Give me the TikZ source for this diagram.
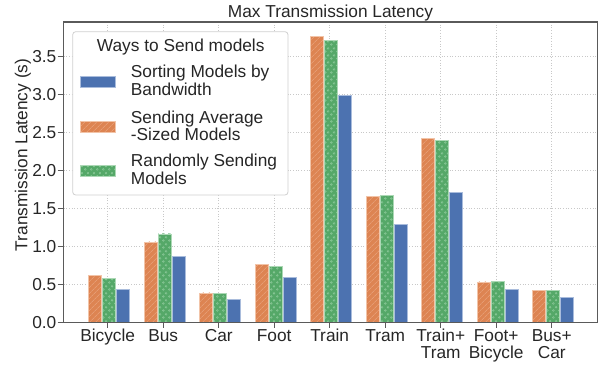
\documentclass[tikz,border=0pt]{standalone}
\usepackage{fontspec}
\setmainfont{Liberation Sans}
\usetikzlibrary{patterns,patterns.meta}
\definecolor{cblue}{HTML}{4C72B0}
\definecolor{cblueedge}{HTML}{A9BCDC}
\definecolor{corange}{HTML}{DD8452}
\definecolor{coredge}{HTML}{F2C4A8}
\definecolor{corhatch}{HTML}{EBAA86}
\definecolor{cgreen}{HTML}{55A868}
\definecolor{cgredge}{HTML}{ACD8B5}
\definecolor{cgrdot}{HTML}{8CC99A}
\definecolor{ctext}{HTML}{262626}
\definecolor{cspine}{HTML}{5A5A5A}
\definecolor{cgrid}{HTML}{C8C8C8}
\definecolor{clegend}{HTML}{D0D0D0}
\pgfdeclarepatternformonly{ringdots}{\pgfqpoint{0pt}{0pt}}{\pgfqpoint{6pt}{7pt}}{\pgfqpoint{6pt}{7pt}}{%
  \pgfsetlinewidth{0.5pt}%
  \pgfpathcircle{\pgfqpoint{1.5pt}{1.75pt}}{1pt}%
  \pgfpathcircle{\pgfqpoint{4.5pt}{5.25pt}}{1pt}%
  \pgfusepath{stroke}}
\begin{document}
\begin{tikzpicture}[x=1pt,y=-1pt,
  lab/.style={font=\fontsize{17.3}{20}\selectfont, text=ctext, inner sep=0pt},
  bbar/.style={fill=cblue, draw=cblueedge, line width=0.8pt},
  obar/.style={draw=coredge, line width=0.8pt, preaction={fill=corange},
     pattern={Lines[angle=45,distance=4pt,line width=0.6pt]}, pattern color=corhatch},
  gbar/.style={draw=cgredge, line width=0.8pt, preaction={fill=cgreen},
     pattern=ringdots, pattern color=cgrdot},
  gridline/.style={cgrid, line width=0.7pt, dotted},
  spine/.style={cspine, line width=1.2pt},
  tickmark/.style={cspine, line width=0.9pt}]
\useasboundingbox (0,0) rectangle (602,367);
% grid
\foreach \v in {0.5,1.0,...,3.5} {
  \draw[gridline] (63.5,{322.7-76.2*\v}) -- (597.5,{322.7-76.2*\v});
}
\foreach \i in {0,...,8} {
  \draw[gridline] ({107.7+55.5*\i},22) -- ({107.7+55.5*\i},322.7);
}
% bars
\foreach \i/\a/\b/\c in {0/0.62/0.585/0.435, 1/1.06/1.165/0.875, 2/0.39/0.38/0.305,
   3/0.76/0.74/0.59, 4/3.76/3.705/2.98, 5/1.655/1.665/1.285, 6/2.42/2.39/1.71,
   7/0.535/0.54/0.44, 8/0.42/0.42/0.33} {
  \pgfmathsetmacro{\t}{107.7+55.5*\i}
  \draw[obar] ({\t-19},322.7) rectangle ({\t-6},{322.7-76.2*\a});
  \draw[gbar] ({\t-5},322.7) rectangle ({\t+8},{322.7-76.2*\b});
  \draw[bbar] ({\t+9},322.7) rectangle ({\t+22},{322.7-76.2*\c});
}
% spines
\draw[spine] (63.5,22) rectangle (597.5,322.7);
% y ticks
\foreach \v/\s in {0/0.0,0.5/0.5,1/1.0,1.5/1.5,2/2.0,2.5/2.5,3/3.0,3.5/3.5} {
  \draw[tickmark] (57.5,{322.7-76.2*\v}) -- (63.5,{322.7-76.2*\v});
  \node[lab, anchor=base east] (yt\s) at (56.5,{322.7-76.2*\v+6.2}) {\s};
}
% x ticks
\foreach \i in {0,...,8} {
  \draw[tickmark] ({107.7+55.5*\i},322.7) -- ({107.7+55.5*\i},327.5);
}
\node[lab, anchor=base] (xBicycle) at (107.7,341.2) {Bicycle};
\node[lab, anchor=base] (xBus) at (163.2,341.2) {Bus};
\node[lab, anchor=base] (xCar) at (218.7,341.2) {Car};
\node[lab, anchor=base] (xFoot) at (274.2,341.2) {Foot};
\node[lab, anchor=base] (xTrain) at (329.7,341.2) {Train};
\node[lab, anchor=base] (xTram) at (385.2,341.2) {Tram};
\node[lab, anchor=base] (xTrainTramA) at (440.7,341.2) {Train+};
\node[lab, anchor=base] (xTrainTramB) at (440.7,358.6) {Tram};
\node[lab, anchor=base] (xFootBikeA) at (496.2,341.2) {Foot+};
\node[lab, anchor=base] (xFootBikeB) at (496.2,358.6) {Bicycle};
\node[lab, anchor=base] (xBusCarA) at (551.7,341.2) {Bus+};
\node[lab, anchor=base] (xBusCarB) at (551.7,358.6) {Car};
% title and y label
\node[lab, anchor=base] (title) at (330.5,17.3) {Max Transmission Latency};
\node[lab, rotate=90] (ylab) at (23,155) {Transmission Latency (s)};
% legend
\draw[draw=clegend, fill=white, rounded corners=3pt, line width=0.8pt] (72.7,31.7) rectangle (288,195);
\node[lab, anchor=base] (legtitle) at (180.7,51.7) {Ways to Send models};
\draw[bbar] (80.7,76.7) rectangle (115,87.3);
\draw[obar] (80.7,121.7) rectangle (115,132);
\draw[gbar] (80.7,165) rectangle (115,176.7);
\node[lab, anchor=base west] (l1a) at (130.7,77.6) {Sorting Models by};
\node[lab, anchor=base west] (l1b) at (130.7,95.4) {Bandwidth};
\node[lab, anchor=base west] (l2a) at (130.7,123.1) {Sending Average};
\node[lab, anchor=base west] (l2b) at (130.7,140.9) {-Sized Models};
\node[lab, anchor=base west] (l3a) at (130.7,166.8) {Randomly Sending};
\node[lab, anchor=base west] (l3b) at (130.7,184.6) {Models};
\end{tikzpicture}
\end{document}
